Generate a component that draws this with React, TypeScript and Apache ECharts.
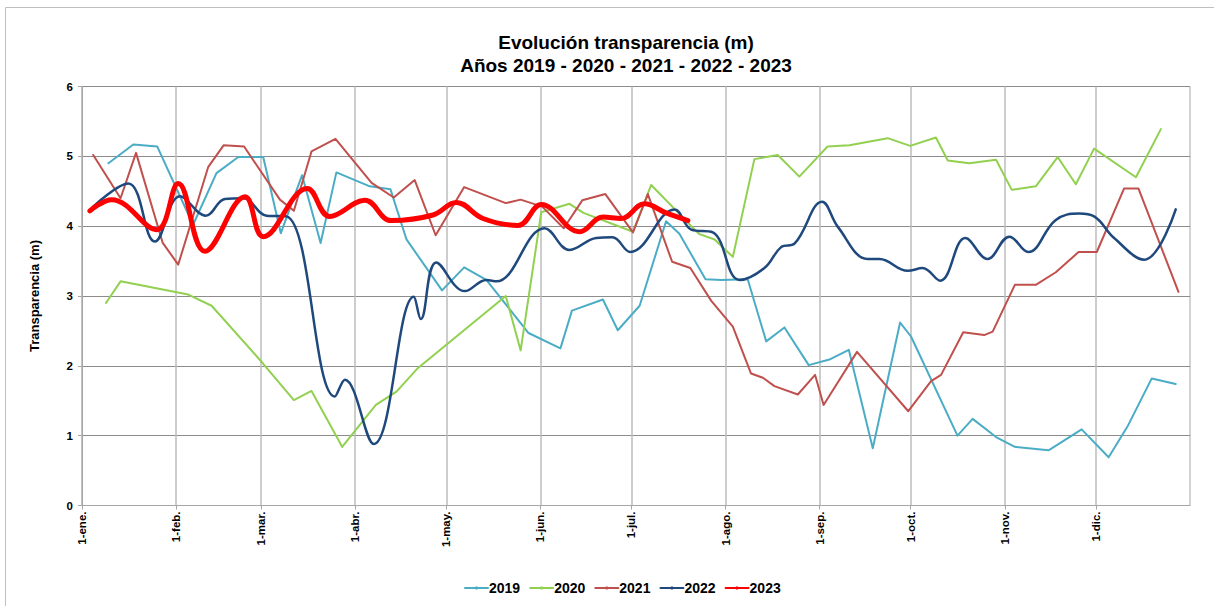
import React, { useEffect, useRef } from "react";
import * as echarts from "echarts";

const monthDays = [0, 31, 59, 90, 120, 151, 181, 212, 243, 273, 304, 334];
const monthLabels = ["1-ene.", "1-feb.", "1-mar.", "1-abr.", "1-may.", "1-jun.", "1-jul.", "1-ago.", "1-sep.", "1-oct.", "1-nov.", "1-dic."];

const days2019 = [8.7, 16.9, 24.8, 36.6, 44.3, 51.5, 59.7, 65.5, 72.5, 78.6, 83.8, 94.8, 101.6, 106.9, 118.6, 125.9, 133.2, 147.1, 157.6, 161.4, 171.6, 176.5, 183.7, 192.4, 196.8, 205.4, 210.6, 219.3, 225.4, 231.4, 239.4, 246.2, 252.6, 260.5, 269.5, 273.1, 288.4, 293.4, 301.1, 307.3, 318.4, 329.3, 338.2, 344.4, 352.4, 360.3];
const vals2019 = [4.90, 5.17, 5.14, 4.02, 4.76, 4.99, 4.99, 3.90, 4.73, 3.76, 4.77, 4.57, 4.53, 3.81, 3.08, 3.41, 3.23, 2.47, 2.25, 2.79, 2.95, 2.51, 2.86, 4.07, 3.89, 3.24, 3.23, 3.24, 2.35, 2.55, 2.01, 2.09, 2.23, 0.82, 2.62, 2.42, 1.00, 1.24, 0.98, 0.84, 0.79, 1.09, 0.69, 1.13, 1.82, 1.74];

const days2020 = [7.9, 12.7, 35.0, 42.7, 59.5, 69.8, 75.6, 85.7, 96.8, 103.6, 110.7, 139.6, 144.5, 151.3, 160.6, 165.2, 181.5, 187.5, 203.2, 208.4, 214.4, 221.5, 229.2, 236.3, 245.6, 252.8, 265.4, 272.8, 281.3, 285.2, 292.3, 301.1, 306.3, 314.2, 321.4, 327.4, 333.4, 347.2, 355.4];
const vals2020 = [2.90, 3.21, 3.02, 2.86, 2.04, 1.51, 1.64, 0.84, 1.44, 1.63, 1.97, 3.00, 2.22, 4.20, 4.32, 4.19, 3.92, 4.59, 3.89, 3.81, 3.56, 4.96, 5.02, 4.71, 5.14, 5.16, 5.26, 5.15, 5.27, 4.94, 4.90, 4.95, 4.52, 4.57, 4.99, 4.60, 5.11, 4.70, 5.39];

const days2021 = [3.7, 12.7, 17.8, 26.6, 31.7, 41.6, 46.7, 53.4, 65.2, 69.8, 75.6, 83.5, 95.4, 102.7, 109.6, 116.5, 125.9, 139.6, 144.5, 151.6, 158.7, 164.8, 172.4, 181.5, 186.4, 194.4, 200.4, 207.3, 214.4, 220.4, 224.3, 228.1, 235.8, 241.5, 244.3, 255.3, 272.2, 279.7, 283.0, 290.3, 297.2, 300.0, 307.3, 314.2, 320.8, 328.3, 334.3, 343.3, 348.0, 361.2];
const vals2021 = [5.02, 4.40, 5.05, 3.76, 3.45, 4.85, 5.16, 5.14, 4.38, 4.22, 5.07, 5.25, 4.62, 4.41, 4.66, 3.87, 4.56, 4.33, 4.38, 4.28, 3.97, 4.37, 4.46, 3.91, 4.46, 3.49, 3.40, 2.93, 2.56, 1.89, 1.83, 1.71, 1.59, 1.87, 1.44, 2.20, 1.35, 1.78, 1.87, 2.48, 2.44, 2.49, 3.16, 3.16, 3.34, 3.63, 3.63, 4.54, 4.54, 3.06];

const days2022 = [3.7, 15.2, 24.0, 32.3, 40.8, 47.1, 53.1, 60.8, 67.4, 83.3, 86.6, 96.1, 109.3, 111.6, 116.7, 126.1, 133.2, 136.5, 152.4, 160.6, 169.4, 174.7, 180.6, 195.2, 200.7, 207.8, 216.6, 224.8, 230.3, 234.7, 243.8, 249.0, 258.8, 262.7, 272.0, 276.9, 282.7, 291.0, 298.3, 305.5, 311.7, 320.8, 328.5, 333.4, 340.0, 349.9, 360.3];
const vals2022 = [4.28, 4.61, 3.78, 4.43, 4.15, 4.39, 4.40, 4.15, 4.14, 1.56, 1.80, 0.88, 2.99, 2.67, 3.48, 3.07, 3.23, 3.21, 3.97, 3.66, 3.83, 3.84, 3.63, 4.24, 3.95, 3.91, 3.23, 3.40, 3.70, 3.75, 4.35, 3.99, 3.53, 3.53, 3.36, 3.40, 3.22, 3.83, 3.53, 3.85, 3.63, 4.09, 4.18, 4.14, 3.83, 3.52, 4.24];

const days2023 = [2.6, 9.8, 24.6, 31.7, 40.5, 53.7, 59.7, 74.2, 81.6, 93.2, 101.9, 115.6, 123.3, 132.1, 143.6, 151.3, 163.9, 171.6, 177.6, 185.3, 192.4, 199.6];
const vals2023 = [4.22, 4.38, 3.95, 4.61, 3.64, 4.42, 3.85, 4.54, 4.14, 4.37, 4.08, 4.16, 4.34, 4.11, 4.01, 4.31, 3.92, 4.13, 4.11, 4.32, 4.19, 4.08];

const seriesNames = ["2019", "2020", "2021", "2022", "2023"];
const seriesColors = ["#4BACC6", "#92D050", "#C0504D", "#1F497D", "#FF0000"];

const pair = (d: number[], v: number[]) => d.map((x, i) => [x, v[i]]);

export default function App() {
  const ref = useRef<HTMLDivElement>(null);
  useEffect(() => {
    document.body.style.margin = "0";
    const chart = echarts.init(ref.current!, null, { renderer: "svg" });
    const font = "'Liberation Sans', Arial, sans-serif";
    const allData = [
      pair(days2019, vals2019),
      pair(days2020, vals2020),
      pair(days2021, vals2021),
      pair(days2022, vals2022),
      pair(days2023, vals2023),
    ];
    const widths = [2, 2, 2, 2.5, 5];
    const smooth = [false, false, false, 0.4, 0.4];
    chart.setOption({
      animation: false,
      textStyle: { fontFamily: font },
      title: {
        text: "Evolución transparencia (m)\nAños 2019 - 2020 - 2021 - 2022 - 2023",
        left: 621,
        textAlign: "center",
        top: 26,
        textStyle: { fontFamily: font, fontSize: 19, fontWeight: "bold", color: "#000", lineHeight: 23 },
      },
      graphic: [
        {
          type: "rect",
          shape: { x: 5.5, y: 7.5, width: 1300, height: 700 },
          style: { fill: "none", stroke: "#BFBFBF", lineWidth: 1 },
          silent: true,
        },
      ],
      legend: {
        data: seriesNames,
        top: 576,
        left: 459,
        itemWidth: 23,
        itemHeight: 4,
        itemGap: 9,
        textStyle: { fontFamily: font, fontSize: 14, fontWeight: "bold", color: "#000", padding: [0, 0, 0, -4] },
      },
      grid: {
        left: 82,
        right: 24,
        top: 86.5,
        bottom: 100.5,
        show: true,
        borderColor: "#A6A6A6",
        borderWidth: 1,
      },
      xAxis: {
        type: "value",
        min: 0,
        max: 365,
        axisLine: { show: true, lineStyle: { color: "#A6A6A6" } },
        axisTick: { show: true, customValues: monthDays, length: 4, lineStyle: { color: "#A6A6A6" } },
        axisLabel: {
          customValues: monthDays,
          rotate: 90,
          fontSize: 11.5,
          fontWeight: "bold",
          color: "#000",
          margin: 6,
          formatter: (v: number) => {
            const i = monthDays.indexOf(Math.round(v));
            return i >= 0 ? monthLabels[i] : "";
          },
        },
        splitLine: { show: true, lineStyle: { color: "#BDBDBD", width: 1.5 } },
      },
      yAxis: {
        type: "value",
        min: 0,
        max: 6,
        interval: 1,
        name: "Transparencia (m)",
        nameLocation: "middle",
        nameRotate: 90,
        nameGap: 41,
        nameTextStyle: { fontFamily: font, fontSize: 13, fontWeight: "bold", color: "#000" },
        axisLine: { show: true, lineStyle: { color: "#A6A6A6" } },
        axisTick: { show: true, length: 4, lineStyle: { color: "#A6A6A6" } },
        axisLabel: { fontSize: 11.5, fontWeight: "bold", color: "#000", margin: 9 },
        splitLine: { show: true, lineStyle: { color: "#8C8C8C", width: 1 } },
      },
      series: seriesNames.map((name, i) => ({
        name,
        type: "line",
        data: allData[i],
        showSymbol: false,
        symbol: "none",
        smooth: smooth[i],
        color: seriesColors[i],
        lineStyle: { color: seriesColors[i], width: widths[i], cap: "round", join: "round" },
        z: 2 + i,
      })),
    });
    return () => chart.dispose();
  }, []);
  return <div ref={ref} style={{ width: 1214, height: 606 }} />;
}
